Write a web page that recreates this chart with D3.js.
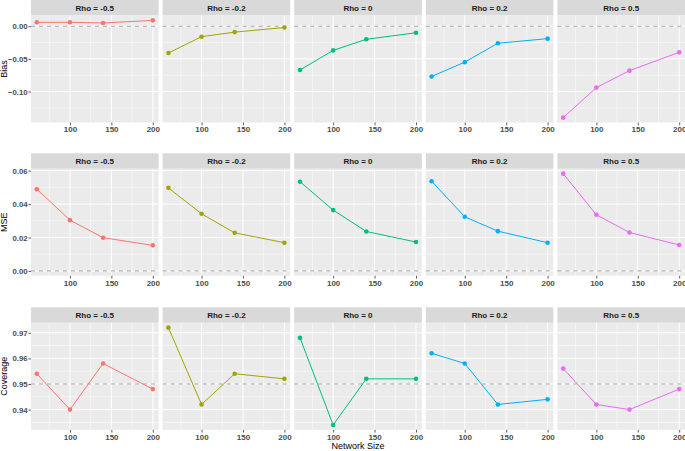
<!DOCTYPE html>
<html><head><meta charset="utf-8">
<script src="https://cdn.jsdelivr.net/npm/d3@7"></script>
<style>
html,body{margin:0;padding:0;background:#fff;}
svg text{font-family:"Liberation Sans",Arial,sans-serif;}
</style></head>
<body>
<svg id="chart" width="685" height="451"></svg>
<script>
// ---- data ----
const networkSizes = [60, 100, 140, 200];
const rhoLabels = ["Rho = -0.5", "Rho = -0.2", "Rho = 0", "Rho = 0.2", "Rho = 0.5"];
const seriesColors = ["#F8766D", "#A3A500", "#00BF7D", "#00B0F6", "#E76BF3"];
const xTicks = [100, 150, 200];
const xMinorTicks = [75, 125, 175];

const biasValues = [
  [0.006, 0.006, 0.005, 0.009],
  [-0.041, -0.016, -0.009, -0.002],
  [-0.067, -0.037, -0.020, -0.010],
  [-0.077, -0.055, -0.026, -0.019],
  [-0.140, -0.094, -0.068, -0.040]
];
const mseValues = [
  [0.0489, 0.0304, 0.0199, 0.0153],
  [0.0497, 0.0342, 0.0228, 0.0169],
  [0.0534, 0.0364, 0.0236, 0.0173],
  [0.0537, 0.0324, 0.0238, 0.0169],
  [0.0582, 0.0336, 0.0230, 0.0155]
];
const coverageValues = [
  [0.954, 0.940, 0.958, 0.948],
  [0.972, 0.942, 0.954, 0.952],
  [0.968, 0.934, 0.952, 0.952],
  [0.962, 0.958, 0.942, 0.944],
  [0.956, 0.942, 0.940, 0.948]
];
const biasTicks = [0.00, -0.05, -0.10];
const biasMinor = [0.025, -0.025, -0.075, -0.125];
const mseTicks = [0.00, 0.02, 0.04, 0.06];
const mseMinor = [0.01, 0.03, 0.05];
const coverageTicks = [0.94, 0.95, 0.96, 0.97];
const coverageMinor = [0.935, 0.945, 0.955, 0.965];
const refLines = [0, 0, 0.95];
const metricNames = ["Bias", "MSE", "Coverage"];

const rows = [
  {name: metricNames[0], values: biasValues, ticks: biasTicks, minor: biasMinor, ref: refLines[0], fmt: d3.format(".2f")},
  {name: metricNames[1], values: mseValues, ticks: mseTicks, minor: mseMinor, ref: refLines[1], fmt: d3.format(".2f")},
  {name: metricNames[2], values: coverageValues, ticks: coverageTicks, minor: coverageMinor, ref: refLines[2], fmt: d3.format(".2f")}
];

// ---- layout ----
const svg = d3.select("#chart");
const plotLeft = 31, plotRight = 685, gap = 4, nCols = 5;
const panelW = (plotRight - plotLeft - gap * (nCols - 1)) / nCols;
const stripH = 15.5, panelH = 107;
const rowTops = [0, 153.3, 307.3];

function expand(ext, m) { const r = ext[1] - ext[0]; return [ext[0] - r * m, ext[1] + r * m]; }
const xDomain = expand(d3.extent(networkSizes), 0.05);
const fmtX = d3.format("d");

rows.forEach((row, ri) => {
  const top = rowTops[ri];
  const pTop = top + stripH, pBot = pTop + panelH;
  const all = row.values.flat().concat([row.ref]);
  const y = d3.scaleLinear().domain(expand(d3.extent(all), 0.05)).range([pBot, pTop]);

  // y-axis title
  svg.append("text")
    .attr("transform", `translate(${6.5},${(pTop + pBot) / 2}) rotate(-90)`)
    .attr("text-anchor", "middle").attr("font-size", 9).attr("fill", "#000")
    .text(row.name);

  // y axis on leftmost panel
  const yAxis = d3.axisLeft(y).tickValues(row.ticks).tickFormat(row.fmt).tickSize(2.5).tickPadding(0.8);
  const ga = svg.append("g").attr("transform", `translate(${plotLeft},0)`).call(yAxis);
  ga.select(".domain").remove();
  ga.selectAll(".tick line").attr("stroke", "#333").attr("stroke-width", 0.8);
  ga.selectAll(".tick text").attr("font-size", 7.8).attr("font-weight", "bold").attr("fill", "#4D4D4D")
    .attr("font-family", '"Liberation Sans",Arial,sans-serif');

  rhoLabels.forEach((lab, ci) => {
    const left = plotLeft + ci * (panelW + gap);
    const x = d3.scaleLinear().domain(xDomain).range([left, left + panelW]);
    const g = svg.append("g");

    // strip
    g.append("rect").attr("x", left).attr("y", top).attr("width", panelW).attr("height", stripH).attr("fill", "#D9D9D9");
    g.append("text").attr("x", left + panelW / 2).attr("y", top + stripH / 2).attr("dy", "0.35em")
      .attr("text-anchor", "middle").attr("font-size", 8).attr("font-weight", "bold").attr("fill", "#1A1A1A").text(lab);

    // panel background
    g.append("rect").attr("x", left).attr("y", pTop).attr("width", panelW).attr("height", panelH).attr("fill", "#EBEBEB");

    // grid
    const yDom = y.domain();
    row.minor.filter(v => v >= yDom[0] && v <= yDom[1]).forEach(v => {
      g.append("line").attr("x1", left).attr("x2", left + panelW).attr("y1", y(v)).attr("y2", y(v))
        .attr("stroke", "#fff").attr("stroke-width", 0.5);
    });
    xMinorTicks.forEach(v => {
      g.append("line").attr("x1", x(v)).attr("x2", x(v)).attr("y1", pTop).attr("y2", pBot)
        .attr("stroke", "#fff").attr("stroke-width", 0.5);
    });
    row.ticks.forEach(v => {
      g.append("line").attr("x1", left).attr("x2", left + panelW).attr("y1", y(v)).attr("y2", y(v))
        .attr("stroke", "#fff").attr("stroke-width", 1);
    });
    xTicks.forEach(v => {
      g.append("line").attr("x1", x(v)).attr("x2", x(v)).attr("y1", pTop).attr("y2", pBot)
        .attr("stroke", "#fff").attr("stroke-width", 1);
    });

    // reference line
    g.append("line").attr("x1", left).attr("x2", left + panelW).attr("y1", y(row.ref)).attr("y2", y(row.ref))
      .attr("stroke", "#A6A6A6").attr("stroke-width", 1).attr("stroke-dasharray", "4,4");

    // x axis
    const xAxis = d3.axisBottom(x).tickValues(xTicks).tickFormat(fmtX).tickSize(2.75).tickPadding(1.5);
    const gx = svg.append("g").attr("transform", `translate(0,${pBot})`).call(xAxis);
    gx.select(".domain").remove();
    gx.selectAll(".tick line").attr("stroke", "#333").attr("stroke-width", 0.8);
    gx.selectAll(".tick text").attr("font-size", 8).attr("font-weight", "bold").attr("fill", "#4D4D4D")
      .attr("font-family", '"Liberation Sans",Arial,sans-serif');

    // data
    const pts = networkSizes.map((s, i) => [s, row.values[ci][i]]);
    const line = d3.line().x(d => x(d[0])).y(d => y(d[1]));
    g.append("path").attr("d", line(pts)).attr("fill", "none").attr("stroke", seriesColors[ci]).attr("stroke-width", 1);
    g.selectAll("circle.pt").data(pts).enter().append("circle")
      .attr("cx", d => x(d[0])).attr("cy", d => y(d[1])).attr("r", 2.3).attr("fill", seriesColors[ci]);
  });
});

// x-axis title
svg.append("text").attr("x", (plotLeft + plotRight) / 2).attr("y", 449)
  .attr("text-anchor", "middle").attr("font-size", 9).attr("fill", "#000").text("Network Size");
</script>
</body></html>
